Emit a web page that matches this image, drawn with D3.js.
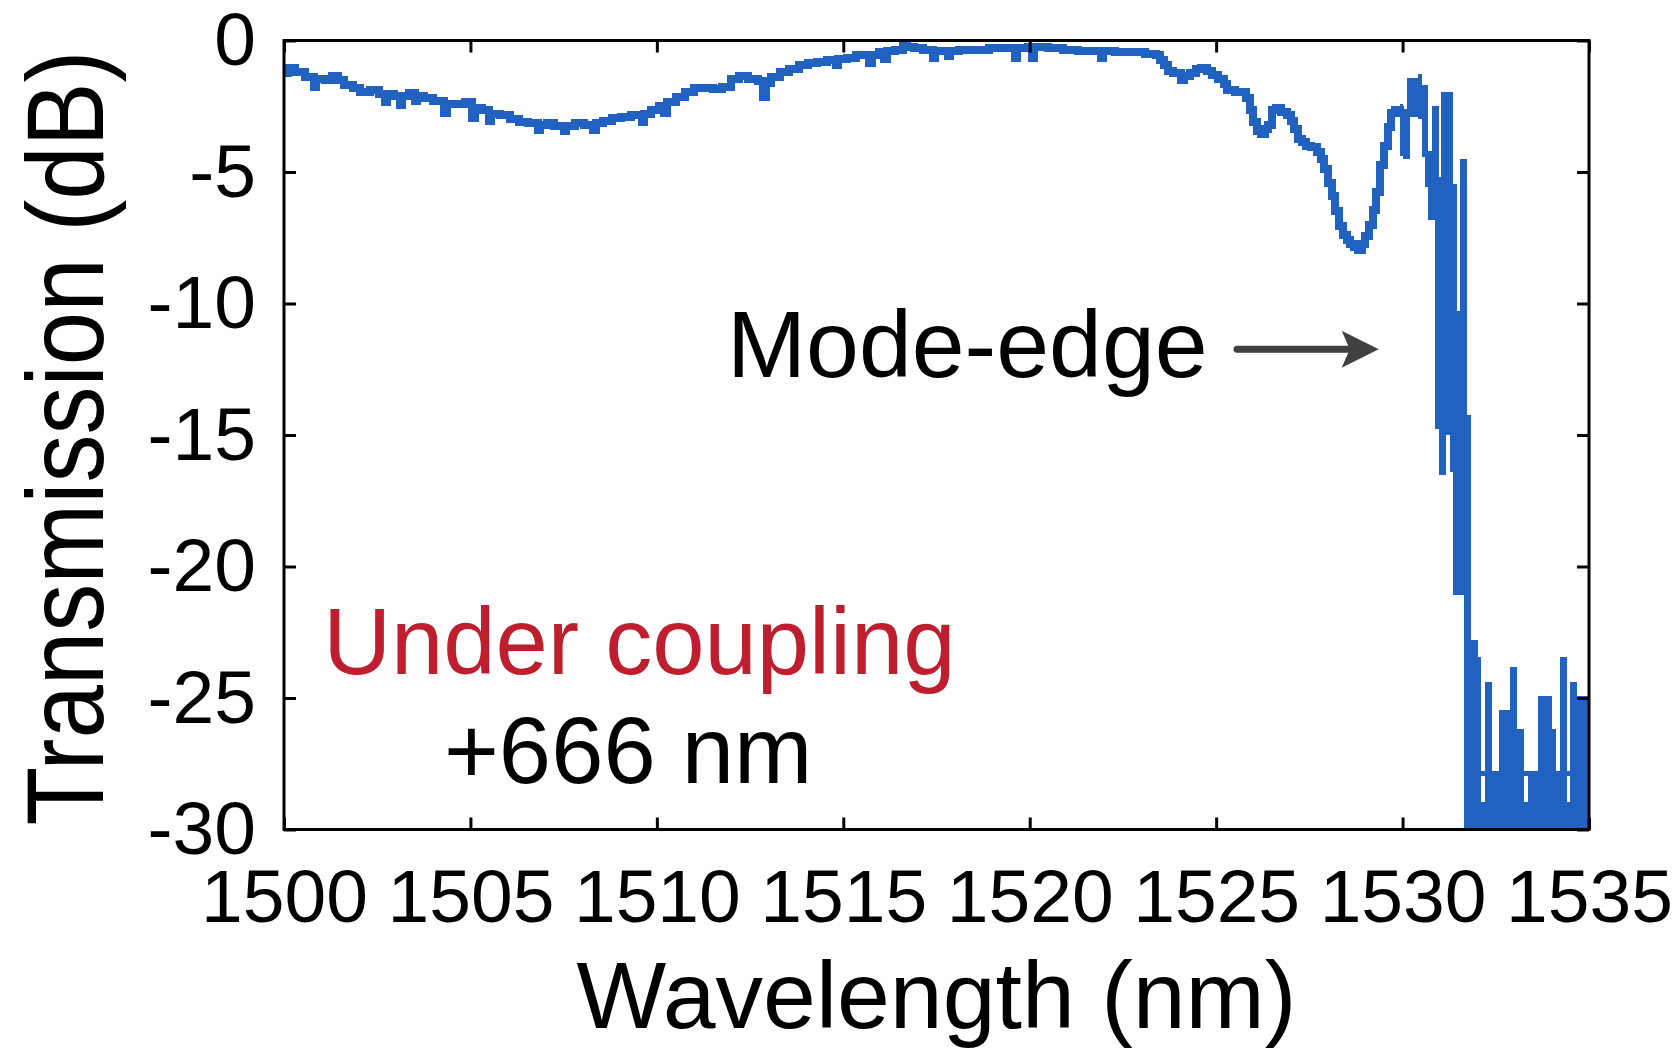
<!DOCTYPE html>
<html>
<head>
<meta charset="utf-8">
<script src="https://cdn.jsdelivr.net/npm/d3@7"></script>
<style>
  html, body { margin: 0; padding: 0; background: #ffffff; }
  svg { display: block; }
  text { font-family: "Liberation Sans", Arial, Helvetica, sans-serif; }
</style>
</head>
<body>
<svg id="chart" width="1680" height="1051"></svg>
<script>
// Transmission spectrum (wavelength in nm, transmission in dB)
const traceWavelength = [
  1500.00, 1500.10, 1500.30, 1500.55, 1500.80, 1500.86, 1501.10, 1501.30, 1501.45, 1501.60,
  1501.85, 1502.05, 1502.30, 1502.55, 1502.70, 1502.76, 1502.95, 1503.10, 1503.16, 1503.35,
  1503.50, 1503.56, 1503.75, 1504.00, 1504.30, 1504.36, 1504.60, 1504.85, 1505.05, 1505.11,
  1505.30, 1505.50, 1505.56, 1505.80, 1506.05, 1506.30, 1506.55, 1506.80, 1506.86, 1507.05,
  1507.25, 1507.50, 1507.56, 1507.80, 1508.05, 1508.30, 1508.36, 1508.55, 1508.80, 1509.05,
  1509.30, 1509.60, 1509.66, 1509.85, 1510.05, 1510.20, 1510.26, 1510.50, 1510.75, 1511.00,
  1511.25, 1511.50, 1511.75, 1512.00, 1512.20, 1512.45, 1512.70, 1512.86, 1512.92, 1513.05,
  1513.30, 1513.55, 1513.80, 1514.05, 1514.30, 1514.55, 1514.80, 1514.86, 1515.10, 1515.35,
  1515.70, 1515.76, 1515.95, 1516.10, 1516.16, 1516.40, 1516.60, 1516.70, 1516.90, 1517.15,
  1517.40, 1517.46, 1517.80, 1517.86, 1518.10, 1518.50, 1518.90, 1519.30, 1519.60, 1519.66,
  1519.95, 1520.05, 1520.11, 1520.50, 1520.90, 1521.30, 1521.70, 1521.90, 1521.96, 1522.30,
  1522.70, 1523.10, 1523.40, 1523.50, 1523.60, 1523.70, 1523.85, 1524.05, 1524.15, 1524.30,
  1524.45, 1524.60, 1524.75, 1524.90, 1525.05, 1525.20, 1525.30, 1525.50, 1525.65, 1525.80,
  1525.90, 1526.00, 1526.10, 1526.20, 1526.30, 1526.40, 1526.50, 1526.60, 1526.75, 1526.90,
  1527.00, 1527.10, 1527.20, 1527.30, 1527.40, 1527.55, 1527.70, 1527.80, 1527.90, 1528.00,
  1528.10, 1528.20, 1528.30, 1528.40, 1528.50, 1528.60, 1528.70, 1528.80, 1528.90, 1529.00,
  1529.10, 1529.20, 1529.30, 1529.40, 1529.50, 1529.60, 1529.70, 1529.80, 1529.93
];
const traceTransmission = [
  -1.25, -1.05, -1.20, -1.40, -1.75, -1.45, -1.50, -1.35, -1.50, -1.70,
  -1.80, -1.95, -1.90, -2.05, -2.35, -2.05, -2.10, -2.45, -2.10, -2.00,
  -2.30, -2.10, -2.20, -2.30, -2.75, -2.40, -2.40, -2.35, -2.95, -2.55,
  -2.65, -3.05, -2.80, -2.85, -3.00, -3.10, -3.15, -3.40, -3.20, -3.15,
  -3.25, -3.45, -3.25, -3.15, -3.20, -3.40, -3.15, -3.05, -2.95, -2.90,
  -2.85, -3.10, -2.80, -2.65, -2.50, -2.75, -2.35, -2.15, -1.95, -1.80,
  -1.80, -1.85, -1.75, -1.45, -1.35, -1.45, -1.55, -2.15, -1.60, -1.40,
  -1.20, -1.10, -0.95, -0.85, -0.80, -0.75, -0.95, -0.70, -0.65, -0.55,
  -0.85, -0.55, -0.45, -0.70, -0.40, -0.35, -0.10, -0.25, -0.30, -0.35,
  -0.65, -0.40, -0.60, -0.40, -0.35, -0.35, -0.30, -0.30, -0.65, -0.30,
  -0.25, -0.65, -0.25, -0.30, -0.35, -0.40, -0.40, -0.65, -0.40, -0.45,
  -0.45, -0.50, -0.55, -0.75, -0.95, -1.15, -1.25, -1.50, -1.35, -1.25,
  -1.10, -1.05, -1.15, -1.30, -1.45, -1.65, -1.90, -1.95, -1.95, -2.20,
  -2.65, -3.10, -3.45, -3.55, -3.35, -3.20, -2.65, -2.55, -2.70, -2.85,
  -3.05, -3.35, -3.75, -3.85, -4.00, -4.05, -4.25, -4.50, -4.90, -5.40,
  -5.90, -6.50, -7.05, -7.40, -7.60, -7.75, -7.85, -7.95, -7.75, -7.45,
  -7.00, -6.45, -5.75, -4.75, -4.00, -3.30, -2.75, -2.65, -2.90
];

// Fast-oscillating part past the mode edge, given as min/max envelope per wavelength bin
const envStart = [
  1529.93, 1530.02, 1530.11, 1530.21, 1530.42, 1530.51, 1530.60, 1530.69, 1530.80, 1530.87,
  1530.98, 1531.02, 1531.16, 1531.27, 1531.34, 1531.45, 1531.54, 1531.64, 1531.72, 1531.83,
  1532.01, 1532.10, 1532.10, 1532.21, 1532.39, 1532.58, 1532.87, 1533.06, 1533.25, 1533.25,
  1533.36, 1533.63, 1534.00, 1534.11, 1534.22, 1534.40, 1534.40, 1534.49, 1534.67
];
const envEnd = [
  1530.02, 1530.11, 1530.21, 1530.42, 1530.51, 1530.60, 1530.69, 1530.80, 1530.87, 1530.98,
  1531.02, 1531.16, 1531.27, 1531.34, 1531.45, 1531.54, 1531.64, 1531.72, 1531.83, 1532.01,
  1532.10, 1532.21, 1532.21, 1532.39, 1532.58, 1532.87, 1533.06, 1533.25, 1533.36, 1533.36,
  1533.63, 1534.00, 1534.11, 1534.22, 1534.40, 1534.49, 1534.49, 1534.67, 1535.00
];
const envHigh = [
  -2.40, -2.60, -1.44, -1.44, -1.27, -1.70, -1.70, -4.20, -2.50, -2.50,
  -5.20, -1.95, -1.95, -1.95, -5.44, -10.30, -4.50, -4.50, -14.25, -22.78,
  -23.44, -27.76, -28.96, -24.41, -27.76, -25.47, -23.84, -26.17, -27.76, -28.96,
  -27.76, -24.94, -26.17, -27.76, -23.44, -27.76, -28.96, -24.41, -24.94
];
const envLow = [
  -4.40, -4.50, -4.50, -2.90, -3.00, -4.42, -5.56, -6.83, -6.83, -14.76,
  -16.53, -16.53, -15.01, -16.41, -21.10, -21.10, -21.10, -31.00, -31.00, -31.00,
  -31.00, -27.95, -31.00, -31.00, -31.00, -31.00, -31.00, -31.00, -27.95, -31.00,
  -31.00, -31.00, -31.00, -31.00, -31.00, -27.95, -31.00, -31.00, -31.00
];

const xTicks = [1500, 1505, 1510, 1515, 1520, 1525, 1530, 1535];
const yTicks = [0, -5, -10, -15, -20, -25, -30];

const xLabel = "Wavelength (nm)";
const yLabel = "Transmission (dB)";
const noteEdge = "Mode-edge";
const noteCoupling = "Under coupling";
const noteShift = "+666 nm";

// ---------- layout ----------
const svg = d3.select("#chart");
const plot = { left: 284, right: 1589, top: 40.5, bottom: 829.5 };
const lineColor = "#2161bf";

const x = d3.scaleLinear().domain([1500, 1535]).range([plot.left, plot.right]);
const y = d3.scaleLinear().domain([-30, 0]).range([plot.bottom, plot.top]);

svg.append("defs").append("clipPath").attr("id", "plot-clip")
  .append("rect")
  .attr("x", plot.left).attr("y", plot.top)
  .attr("width", plot.right - plot.left).attr("height", plot.bottom - plot.top);

const dataLayer = svg.append("g").attr("clip-path", "url(#plot-clip)");

// envelope bins
const bins = envStart.map((s, i) => ({ s, e: envEnd[i], hi: envHigh[i], lo: envLow[i] }));
dataLayer.selectAll("rect.env").data(bins).join("rect")
  .attr("class", "env")
  .attr("x", d => x(d.s))
  .attr("width", d => x(d.e) - x(d.s))
  .attr("y", d => y(d.hi))
  .attr("height", d => y(d.lo) - y(d.hi))
  .attr("fill", lineColor)
  .attr("shape-rendering", "crispEdges");

// main trace
const trace = traceWavelength.map((w, i) => [w, traceTransmission[i]]);
dataLayer.append("path")
  .datum(trace)
  .attr("fill", "none")
  .attr("stroke", lineColor)
  .attr("stroke-width", 8)
  .attr("stroke-linejoin", "miter")
  .attr("shape-rendering", "crispEdges")
  .attr("d", d3.line().x(d => x(d[0])).y(d => y(d[1])).curve(d3.curveStepAfter));

// ---------- axes ----------
const tickLen = 12;
const fontTick = 75;
const plainNumber = d => String(d);   // ASCII hyphen for negatives

const axB = svg.append("g").attr("transform", `translate(0,${plot.bottom})`)
  .call(d3.axisBottom(x).tickValues(xTicks).tickFormat(plainNumber)
    .tickSizeInner(-tickLen).tickSizeOuter(0).tickPadding(39));
const axL = svg.append("g").attr("transform", `translate(${plot.left},0)`)
  .call(d3.axisLeft(y).tickValues(yTicks).tickFormat(plainNumber)
    .tickSizeInner(-tickLen).tickSizeOuter(0).tickPadding(28));
const axT = svg.append("g").attr("transform", `translate(0,${plot.top})`)
  .call(d3.axisTop(x).tickValues(xTicks).tickFormat("")
    .tickSizeInner(-tickLen).tickSizeOuter(0));
const axR = svg.append("g").attr("transform", `translate(${plot.right},0)`)
  .call(d3.axisRight(y).tickValues(yTicks).tickFormat("")
    .tickSizeInner(-tickLen).tickSizeOuter(0));

[axB, axL, axT, axR].forEach(g => {
  g.select(".domain").remove();
  g.selectAll(".tick line").attr("stroke", "#000").attr("stroke-width", 3);
  g.selectAll(".tick text")
    .attr("fill", "#000")
    .style("font-family", '"Liberation Sans", Arial, sans-serif')
    .style("font-size", fontTick + "px");
});

// frame
svg.append("rect")
  .attr("x", plot.left).attr("y", plot.top)
  .attr("width", plot.right - plot.left).attr("height", plot.bottom - plot.top)
  .attr("fill", "none").attr("stroke", "#000").attr("stroke-width", 3);

// axis titles
svg.append("text")
  .attr("x", (plot.left + plot.right) / 2).attr("y", 1028)
  .attr("text-anchor", "middle")
  .style("font-size", "95px").attr("fill", "#000")
  .text(xLabel);

svg.append("text")
  .attr("transform", `translate(103,${(plot.top + plot.bottom) / 2 + 3}) rotate(-90) scale(1,1.14)`)
  .attr("text-anchor", "middle")
  .style("font-size", "96px").attr("fill", "#000")
  .text(yLabel);

// ---------- annotations ----------
svg.append("text")
  .attr("x", x(1511.88)).attr("y", y(-12.8))
  .style("font-size", "95px").attr("fill", "#000")
  .text(noteEdge);

// arrow pointing at the mode edge
const arrowY = y(-11.74);
const arrowX0 = x(1525.56), arrowTip = x(1529.36);
svg.append("line")
  .attr("x1", arrowX0).attr("y1", arrowY)
  .attr("x2", arrowTip - 28).attr("y2", arrowY)
  .attr("stroke", "#404040").attr("stroke-width", 7).attr("stroke-linecap", "round");
svg.append("path")
  .attr("d", `M${arrowTip},${arrowY} L${arrowTip - 37},${arrowY - 18.5} L${arrowTip - 29},${arrowY} L${arrowTip - 37},${arrowY + 18.5} Z`)
  .attr("fill", "#404040");

svg.append("text")
  .attr("x", x(1501.05)).attr("y", y(-24.07))
  .style("font-size", "94px").attr("fill", "#be1e2d")
  .text(noteCoupling);

svg.append("text")
  .attr("x", x(1504.29)).attr("y", y(-28.25))
  .style("font-size", "94px").attr("fill", "#000")
  .text(noteShift);
</script>
</body>
</html>
